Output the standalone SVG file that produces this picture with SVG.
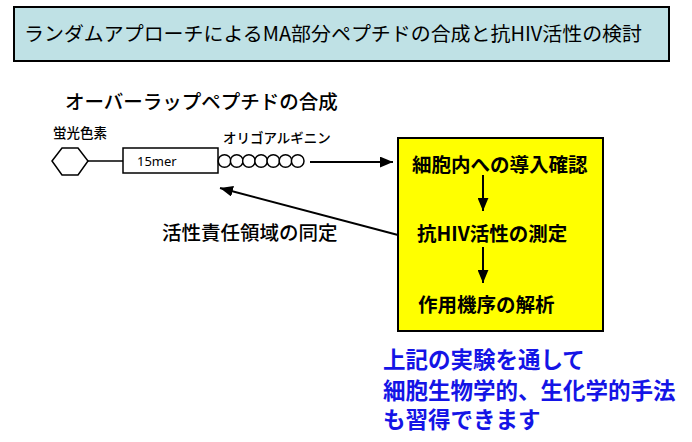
<svg xmlns="http://www.w3.org/2000/svg" width="692" height="442" viewBox="0 0 692 442">
<defs>
<style>
text{font-family:"Noto Sans CJK JP","Noto Sans",sans-serif;dominant-baseline:central;fill:#000}
.b{font-weight:bold}
.m{font-weight:500}
.blue{fill:#1414e6;font-size:22.5px;font-weight:bold}
.ln{stroke:#000;stroke-width:2;fill:none}
</style>
<marker id="ah" viewBox="0 0 12 10" refX="12" refY="5" markerWidth="6.5" markerHeight="5.5" orient="auto" markerUnits="strokeWidth">
<path d="M0,0L12,5L0,10z" fill="#000"/>
</marker>
</defs>
<rect width="692" height="442" fill="#fff"/>
<g id="title">
<rect x="14" y="7" width="655" height="54" fill="#bfe1e5" stroke="#000" stroke-width="2"/>
<text x="24" y="32" font-size="19.5" textLength="618" lengthAdjust="spacingAndGlyphs">ランダムアプローチによるMA部分ペプチドの合成と抗HIV活性の検討</text>
</g>
<g id="peptide">
<text x="65" y="100" font-size="19.5" class="m">オーバーラップペプチドの合成</text>
<text x="53" y="132" font-size="13.5" class="m">蛍光色素</text>
<text x="223" y="137" font-size="13.5" class="m">オリゴアルギニン</text>
<polygon points="52,161 62,148 78,148 88,161 78,175 62,175" fill="#fff" stroke="#000" stroke-width="1.5"/>
<line x1="88" y1="161" x2="123" y2="161" stroke="#000" stroke-width="1.5"/>
<rect x="123" y="148" width="95" height="25" fill="#fff" stroke="#000" stroke-width="1.5"/>
<text x="137" y="161" font-size="13" style="font-family:'Noto Sans',sans-serif">15mer</text>
<g fill="#fff" stroke="#000" stroke-width="1.5">
<circle cx="224.5" cy="161" r="6.3"/>
<circle cx="236.7" cy="161" r="6.3"/>
<circle cx="248.9" cy="161" r="6.3"/>
<circle cx="261.1" cy="161" r="6.3"/>
<circle cx="273.3" cy="161" r="6.3"/>
<circle cx="285.5" cy="161" r="6.3"/>
<circle cx="297.7" cy="161" r="6.3"/>
</g>
</g>
<g id="assay">
<rect x="398" y="138" width="205" height="193" fill="#ffff00" stroke="#000" stroke-width="2"/>
<text x="412" y="163" font-size="19.5" class="b">細胞内への導入確認</text>
<text x="417" y="232" font-size="19.5" class="b">抗HIV活性の測定</text>
<text x="418" y="303" font-size="19.5" class="b">作用機序の解析</text>
</g>
<g id="identify">
<text x="162" y="231" font-size="19.5" class="m">活性責任領域の同定</text>
</g>
<g id="note">
<text x="383" y="358" class="blue">上記の実験を通して</text>
<text x="383" y="389" class="blue">細胞生物学的、生化学的手法</text>
<text x="383" y="418" class="blue">も習得できます</text>
</g>
<g id="connectors">
<line class="ln" x1="310" y1="162" x2="393" y2="162" marker-end="url(#ah)"/>
<line class="ln" x1="483" y1="175" x2="483" y2="211" marker-end="url(#ah)"/>
<line class="ln" x1="483" y1="247" x2="483" y2="283" marker-end="url(#ah)"/>
<line class="ln" x1="398" y1="235" x2="220" y2="188" marker-end="url(#ah)"/>
</g>
</svg>
